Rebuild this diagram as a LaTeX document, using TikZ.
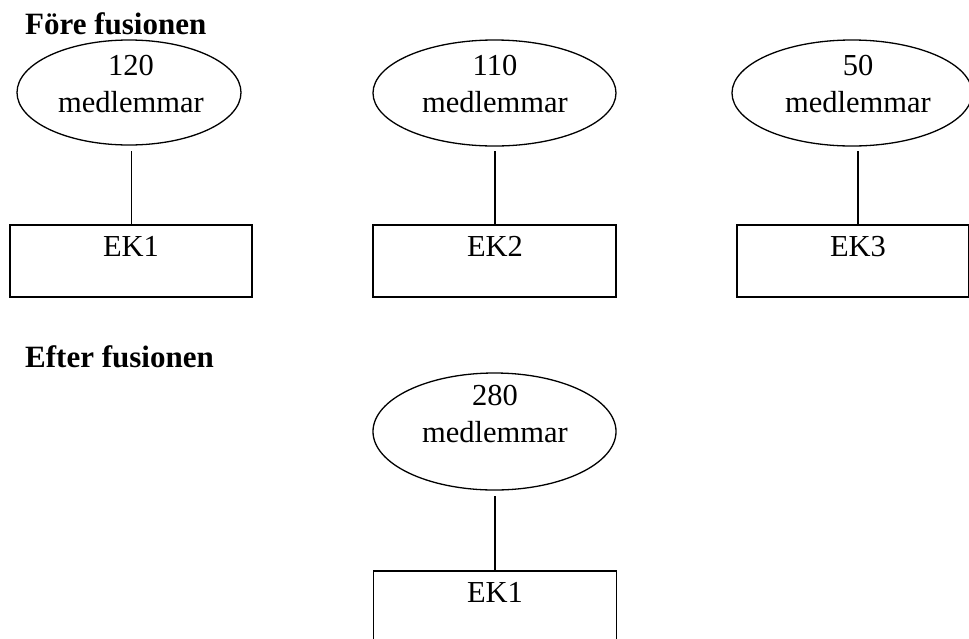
\documentclass[tikz,border=0pt]{standalone}
\usepackage{fontspec}
\setmainfont{Liberation Serif}
\usetikzlibrary{shapes.geometric}
\begin{document}
\begin{tikzpicture}[x=1pt,y=-1pt,
  oval/.style={draw,line width=1.3pt,ellipse,inner sep=0pt,minimum width=#1},
  boxnode/.style={draw,line width=1.8pt,rectangle,inner sep=0pt,minimum width=243pt,minimum height=72pt},
  txt/.style={font=\fontsize{30.5}{36}\selectfont,inner sep=0pt,anchor=base},
  head/.style={font=\fontsize{31}{36}\selectfont\bfseries,inner sep=0pt,anchor=base west},
  link/.style={line width=1.5pt}]
\useasboundingbox (0,0) rectangle (969,638);
% headings
\node[head] (h1) at (25,34) {Före fusionen};
\node[head] (h2) at (25,367) {Efter fusionen};
% ellipses row 1
\node[oval=224pt,minimum height=105pt] (e1) at (129,92.5) {};
\node[oval=243pt,minimum height=106pt] (e2) at (494.5,93) {};
\node[oval=240pt,minimum height=106pt] (e3) at (852,93) {};
\node[txt] (t1a) at (131,75) {120};
\node[txt] (t1b) at (131,112) {medlemmar};
\node[txt] (t2a) at (495,75) {110};
\node[txt] (t2b) at (495,112) {medlemmar};
\node[txt] (t3a) at (858,75) {50};
\node[txt] (t3b) at (858,112) {medlemmar};
% boxes row 1
\node[boxnode,minimum width=242pt] (b1) at (131,261) {};
\node[boxnode] (b2) at (494.5,261) {};
\node[boxnode,minimum width=232pt] (b3) at (853,261) {};
\node[txt] (k1) at (131,256) {EK1};
\node[txt] (k2) at (495,256) {EK2};
\node[txt] (k3) at (858,256) {EK3};
% connectors row 1
\coordinate (c1) at (131.5,151);
\coordinate (c2) at (495,151);
\coordinate (c3) at (858,151);
\draw[link] (c1) -- (c1 |- b1.north);
\draw[link] (c2) -- (c2 |- b2.north);
\draw[link] (c3) -- (c3 |- b3.north);
% after fusion
\node[oval=243pt,minimum height=117pt] (e4) at (494.5,431.5) {};
\node[txt] (t4a) at (495,405) {280};
\node[txt] (t4b) at (495,442) {medlemmar};
\node[boxnode,minimum height=90pt] (b4) at (495,616) {};
\node[txt] (k4) at (495,602) {EK1};
\coordinate (c4) at (495,496);
\draw[link] (c4) -- (c4 |- b4.north);
\end{tikzpicture}
\end{document}
